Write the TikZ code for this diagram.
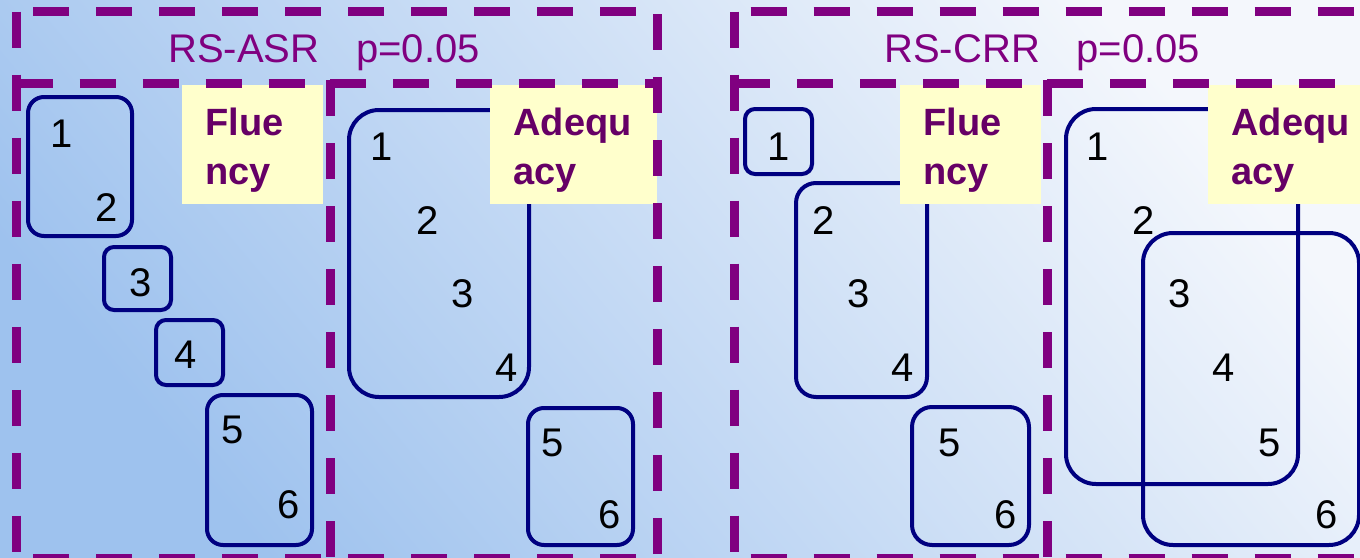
\documentclass[tikz,border=0pt]{standalone}
\usepackage{fontspec}
\setmainfont{Liberation Sans}
\usetikzlibrary{positioning}
\definecolor{bgblue}{RGB}{158,194,238}
\definecolor{bgpale}{RGB}{244,247,252}
\definecolor{sepurple}{RGB}{128,0,128}
\definecolor{tagpurple}{RGB}{102,0,102}
\definecolor{grpnavy}{RGB}{0,0,128}
\definecolor{tagyellow}{RGB}{255,255,204}
\newcommand{\padtop}{\rule{0pt}{19pt}}

\begin{document}
\begin{tikzpicture}[x=0.5pt, y=-0.5pt,
    every node/.style={font=\fontsize{20}{24.5}\selectfont},
    num/.style={inner sep=0pt, text=black},
    grp/.style={draw=grpnavy, line width=2pt},
    tag/.style={fill=tagyellow, text=tagpurple, anchor=north west, align=left,
                font=\fontsize{19}{24.5}\selectfont\bfseries,
                inner xsep=11.5pt, inner ysep=0pt, minimum height=59.5pt},
    sep/.style={draw=sepurple, line width=4.5pt, dash pattern=on 18pt off 13.5pt},
    gapfirst/.style={dash phase=23.25pt},
    title/.style={anchor=base west, inner sep=0pt, text=sepurple},
]
\useasboundingbox (0,0) rectangle (1360,557);
\clip (0,0) rectangle (1360,557);
\shade[bottom color=bgblue, top color=bgpale, shading angle=-50] (0,0) rectangle (1360,557);

% RS-ASR: fluency groups
\draw[grp, rounded corners=8pt] (28,97) rectangle (132,236);
\draw[grp, rounded corners=5pt] (104,247) rectangle (171,310);
\draw[grp, rounded corners=5pt] (156,320) rectangle (223,385);
\draw[grp, rounded corners=8pt] (207,395) rectangle (312,545);
\node[num] (fa1) at (62,134) {1};
\node[num] (fa2) at (107,208) {2};
\node[num] (fa3) at (141,283) {3};
\node[num] (fa4) at (186,355) {4};
\node[num] (fa5) at (233,430) {5};
\node[num] (fa6) at (289,505) {6};

% RS-ASR: adequacy groups
\draw[grp, rounded corners=15pt] (349,110) rectangle (529,397);
\draw[grp, rounded corners=8pt] (528,408) rectangle (633,545);
\node[num] (aa1) at (382,147) {1};
\node[num] (aa2) at (428,221) {2};
\node[num] (aa3) at (463,294) {3};
\node[num] (aa4) at (507,368) {4};
\node[num] (aa5) at (553,443) {5};
\node[num] (aa6) at (610,515) {6};

% RS-CRR: fluency groups
\draw[grp, rounded corners=5pt] (745,109) rectangle (812,174);
\draw[grp, rounded corners=10pt] (796,183) rectangle (927,397);
\draw[grp, rounded corners=10pt] (912,407) rectangle (1029,545);
\node[num] (fc1) at (779,147) {1};
\node[num] (fc2) at (824,221) {2};
\node[num] (fc3) at (859,294) {3};
\node[num] (fc4) at (903,368) {4};
\node[num] (fc5) at (950,443) {5};
\node[num] (fc6) at (1006,515) {6};

% RS-CRR: adequacy groups (overlapping)
\draw[grp, rounded corners=15pt] (1066,109) rectangle (1298,484);
\draw[grp, rounded corners=15pt] (1143,233) rectangle (1359,545);
\node[num] (ac1) at (1098,147) {1};
\node[num] (ac2) at (1144,221) {2};
\node[num] (ac3) at (1180,294) {3};
\node[num] (ac4) at (1224,368) {4};
\node[num] (ac5) at (1270,443) {5};
\node[num] (ac6) at (1327,515) {6};

% criterion tags
\node[tag, text width=47.5pt] (tagfa) at (182,85)  {\padtop Flue\\ncy};
\node[tag, text width=60.5pt] (tagaa) at (490,85)  {\padtop Adequ\\acy};
\node[tag, text width=47.5pt] (tagfc) at (900,85)  {\padtop Flue\\ncy};
\node[tag, text width=60.5pt] (tagac) at (1208,85) {\padtop Adequ\\acy};

% dashed frames
\draw[sep, gapfirst] (16.5,11.5) -- (657,11.5);
\draw[sep, gapfirst] (734,11.5) -- (1380,11.5);
\draw[sep] (16.5,83) -- (330,83);
\draw[sep] (330,83) -- (657,83);
\draw[sep] (734,83) -- (1047,83);
\draw[sep] (1047,83) -- (1380,83);
\draw[sep, gapfirst] (16.5,558) -- (657,558);
\draw[sep, gapfirst] (734,558) -- (1380,558);
\draw[sep] (16.5,11.5) -- (16.5,570);
\draw[sep] (330,80) -- (330,570);
\draw[sep] (657,14) -- (657,570);
\draw[sep] (734,11.5) -- (734,570);
\draw[sep] (1047,80) -- (1047,570);

\node[title] (ttlasr) at (168,62) {RS-ASR\hspace{0.92em}p=0.05};
\node[title] (ttlcrr) at (884,62) {RS-CRR\hspace{0.92em}p=0.05};
\end{tikzpicture}
\end{document}
